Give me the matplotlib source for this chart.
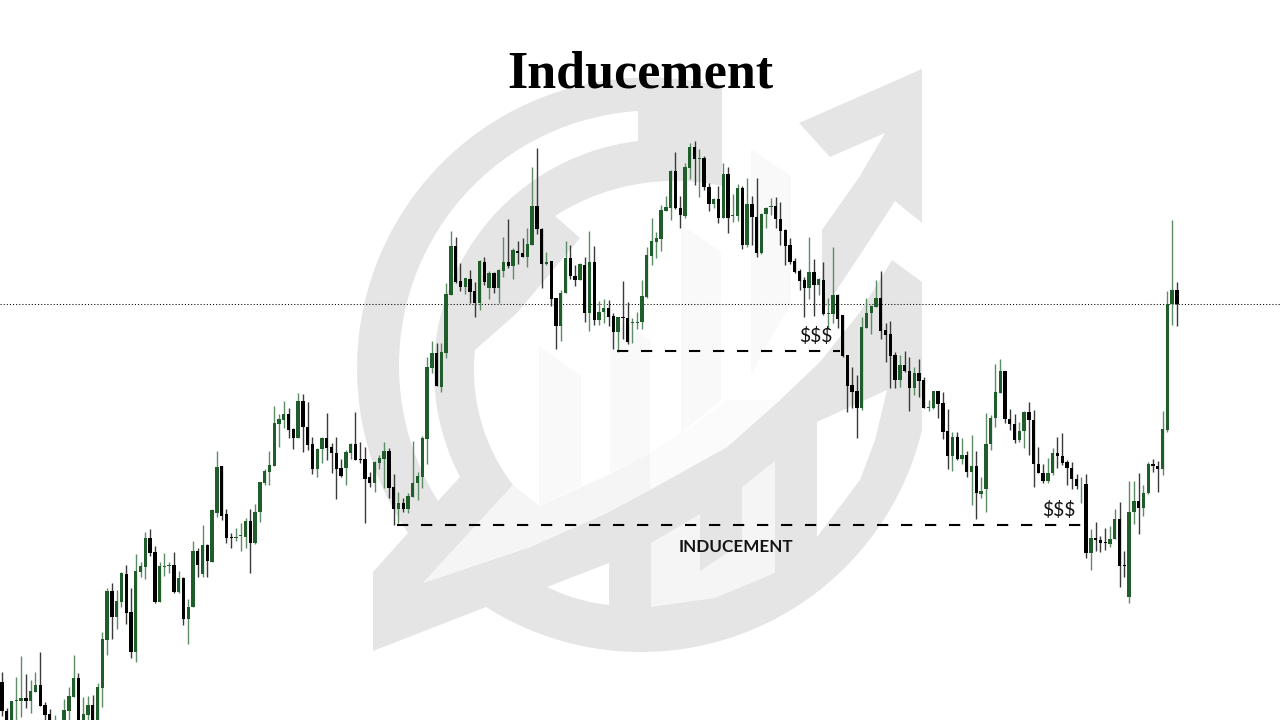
import numpy as np
import matplotlib
matplotlib.use("Agg")
import matplotlib.pyplot as plt
from matplotlib.patches import Polygon

title = "Inducement"
zone_label = "INDUCEMENT"
liquidity_label = "$$$"

# Chart levels (axis runs downwards, 0 to 720)
highs = [
 672,708,701,677,656,674,680,672,652,702,
 709,715,726,699,687,655,673,697,696,695,
 683,632,588,583,590,572,565,588,554,562,
 532,529,546,562,553,562,552,571,577,599,
 541,548,525,544,509,451,466,509,533,528,
 523,518,509,504,482,469,451,406,414,401,
 408,428,393,394,402,437,448,437,413,443,
 437,459,450,443,412,442,447,472,461,455,
 442,448,474,492,498,493,441,472,436,357,
 341,343,343,283,231,237,263,278,270,282,
 260,257,271,272,269,237,219,248,241,238,
 228,167,148,228,252,261,298,290,241,245,
 265,263,257,231,246,301,299,300,313,317,
 281,302,318,312,280,247,218,232,205,196,
 170,152,196,163,143,141,149,156,183,198,
 186,163,167,194,184,186,178,196,178,213,
 207,198,197,202,229,238,258,269,277,237,
 259,278,262,298,247,294,315,355,367,375,
 317,298,305,280,271,323,321,352,355,351,
 357,367,359,377,400,391,391,392,409,432,
 432,438,451,435,451,477,413,415,364,359,
 371,409,414,422,411,402,410,447,464,458,
 448,437,433,460,462,474,477,474,529,522,
 536,528,526,509,502,551,481,481,473,485,
 462,459,461,411,291,220,282]
body_tops = [
 682,711,701,700,698,698,691,685,685,705,
 714,722,735,710,696,678,678,714,705,705,
 687,639,591,591,601,573,574,612,571,566,
 538,538,552,566,566,565,565,578,578,607,
 551,551,545,545,510,467,466,514,537,537,
 535,521,521,512,482,471,465,423,419,414,
 414,429,401,401,427,444,449,438,438,447,
 453,468,452,444,444,459,459,477,462,458,
 451,451,487,503,503,496,483,476,438,367,
 353,353,352,294,246,246,281,278,279,291,
 261,262,273,273,270,262,262,250,251,253,
 244,206,206,229,262,261,298,293,258,258,
 276,264,265,262,262,312,308,308,316,317,
 317,318,322,322,296,255,241,238,210,207,
 171,171,208,167,147,147,158,158,187,199,
 199,174,174,215,188,188,204,204,217,214,
 208,206,206,219,230,245,261,271,280,272,
 272,279,280,313,295,295,315,355,385,391,
 327,313,306,298,298,330,334,355,365,365,
 371,373,373,380,407,391,391,403,431,437,
 437,455,455,466,466,491,444,418,392,371,
 371,419,424,431,412,412,420,464,473,473,
 453,453,456,462,468,479,485,484,538,538,
 540,542,539,519,519,565,512,501,501,493,
 464,464,466,429,304,290,290]
body_bottoms = [
 711,726,726,701,701,701,701,692,706,715,
 723,726,745,726,711,697,726,726,715,726,
 726,688,640,617,617,602,613,652,652,572,
 567,553,602,602,567,566,592,592,619,619,
 607,565,574,561,562,513,516,538,538,538,
 536,537,543,543,512,483,472,466,424,420,
 430,438,438,427,445,469,469,449,448,453,
 469,476,468,453,460,460,479,483,483,463,
 459,488,509,509,509,509,497,483,477,439,
 368,386,387,353,295,282,287,287,292,303,
 303,282,288,288,288,271,266,266,253,257,
 257,245,229,264,264,299,326,326,293,276,
 280,280,313,313,320,320,312,317,332,332,
 318,342,323,323,322,297,256,242,239,211,
 208,208,215,216,168,159,159,187,204,204,
 218,218,218,216,216,245,245,217,253,253,
 214,207,219,231,246,262,272,281,288,288,
 285,285,314,314,314,319,356,386,392,408,
 408,328,313,307,331,335,356,380,380,371,
 388,388,381,408,408,408,404,432,456,456,
 459,459,472,472,493,494,489,444,418,393,
 419,424,440,440,431,420,464,473,481,481,
 473,456,463,468,479,486,485,553,553,540,
 543,543,544,539,566,566,597,512,508,508,
 493,466,469,469,430,304,304]
lows = [
 716,730,730,722,717,708,713,692,706,720,
 726,730,748,730,720,697,730,730,720,730,
 730,707,655,639,629,607,624,658,662,577,
 579,556,603,602,576,573,593,593,625,644,
 607,577,577,577,562,517,520,543,548,541,
 551,548,573,544,522,485,485,466,447,428,
 438,449,438,452,450,474,477,463,460,473,
 499,477,485,459,460,463,523,487,492,469,
 488,498,525,523,512,513,497,500,488,464,
 373,386,392,358,295,283,291,294,303,317,
 310,285,299,293,303,277,268,279,264,257,
 267,245,234,288,265,306,349,341,293,279,
 286,280,322,331,325,325,323,326,349,352,
 339,344,343,329,329,298,265,258,251,211,
 220,209,228,218,179,185,197,190,211,208,
 223,218,233,222,221,249,247,245,257,254,
 228,215,228,245,265,264,273,290,317,299,
 316,295,315,328,323,328,357,412,408,438,
 410,328,334,307,339,362,388,388,387,372,
 411,395,397,408,411,409,418,439,469,471,
 460,464,477,505,519,498,512,450,427,393,
 423,430,443,442,448,455,487,473,483,483,
 475,468,465,485,489,489,503,558,570,551,
 552,550,547,539,587,577,603,524,534,516,
 494,472,492,475,432,325,326]
direction = ("kkgggkggkk" "kgkgggkggk" "gggkggkkgg" "gkkgggkgkg" "gkgkggkkkg"
             "ggkggggggg" "kkgkkkggkk" "kkggkkkkgg" "gkkgkggggg" "gkgggkkgkk"
             "gkgkggkgkk" "ggkkgkkggk" "kgkgkggkkg" "kkgggggggg" "gkkggkgkkg"
             "kgkggkgkkg" "ggkkkkkkkg" "kgkggkkkkk" "ggggkkkkgk" "kgkkggkkkg"
             "kgkgkggggg" "kkkggkkkkg" "gkkkkkgkgk" "kkggkkggkg" "gkkgggk")

dotted_level = 304
major_sweep = dict(level=525, start=82.7, end=226.8)
minor_sweep = dict(level=351, start=128.8, end=175.5)

GREY, LIGHT, PALE, WHITE = "#e5e5e5", "#f5f5f5", "#f9f9f9", "#ffffff"
GREEN, GREEN_WICK, BLACK, BLACK_WICK = "#1f5e2a", "#5c8d65", "#000000", "#3a3a3a"

plt.rcParams["font.family"] = ["Lato", "DejaVu Sans"]
fig = plt.figure(figsize=(12.8, 7.2), dpi=100, facecolor="white")

# --- watermark behind the chart, in figure pixels
bg = fig.add_axes([0, 0, 1, 1], zorder=0)
bg.set_xlim(0, 1280); bg.set_ylim(720, 0); bg.axis("off")


def arc(p0, p1, p2, n=50):
    """Points on the circle through three pixel points, p0 to p2 via p1."""
    (ax, ay), (bx, by), (cx, cy) = p0, p1, p2
    d = 2 * (ax * (by - cy) + bx * (cy - ay) + cx * (ay - by))
    ux = ((ax**2 + ay**2) * (by - cy) + (bx**2 + by**2) * (cy - ay) + (cx**2 + cy**2) * (ay - by)) / d
    uy = ((ax**2 + ay**2) * (cx - bx) + (bx**2 + by**2) * (ax - cx) + (cx**2 + cy**2) * (bx - ax)) / d
    r = np.hypot(ax - ux, ay - uy)
    a0, a1, a2 = [np.arctan2(q[1] - uy, q[0] - ux) for q in (p0, p1, p2)]
    def sweep(a, b, positive):
        d_ = (b - a) % (2 * np.pi)
        return d_ if positive else d_ - 2 * np.pi
    pos = sweep(a0, a1, True) < sweep(a0, a2, True)
    t = np.linspace(a0, a0 + sweep(a0, a2, pos), n)
    return list(zip(ux + r * np.cos(t), uy + r * np.sin(t)))


def shape(pts, color, z=1):
    bg.add_patch(Polygon(pts, closed=True, facecolor=color, edgecolor="none", zorder=z))


# big grey body
shape(arc((722, 87), (357, 366), (408, 533)) + [(373, 572), (373, 651), (486, 607)]
      + arc((486, 607), (645, 652), (922, 430)) + [(922, 282), (892, 260), (722, 87)], GREY, 1)
# white gap between the rings
shape(arc((638, 111), (399, 366), (438, 501)) + arc((460, 477), (434, 366), (638, 141)), WHITE, 2)
# white interior
swoosh_low = [(892, 260), (860, 312), (820, 362), (780, 400), (727, 447), (607, 513), (530, 547), (423, 583)]
shape(arc((555, 216), (638, 184), (722, 186)) + [(722, 50), (930, 50), (930, 262)] + swoosh_low
      + arc((513, 485), (474, 366), (475, 350)) + [(517, 313), (580, 238)], WHITE, 2)
# arrow head and its crescent
shape([(799, 123), (922, 69), (922, 223), (895, 201), (860, 255), (822, 312), (822, 230),
       (860, 176), (885, 133), (830, 157)], GREY, 3)
# wedge inside the ring on the right, sliver at the bottom
shape([(817, 422), (887, 390), (875, 440), (860, 480), (817, 537)], WHITE, 3)
shape([(609, 563), (547, 587)] + arc((547, 587), (575, 598), (609, 605)), WHITE, 3)
# lighter swoosh tail, fading along its length, and bars
shape([(650, 453), (690, 428), (727, 400), (780, 400), (727, 447), (650, 490)], "#fbfbfb", 3)
shape([(423, 583), (513, 485), (540, 506), (610, 474), (650, 453), (650, 490), (607, 513), (530, 547)], LIGHT, 3)
shape([(539, 346), (581, 376), (581, 486), (539, 506)], PALE, 3)
shape([(610, 315), (650, 340), (650, 453), (610, 473)], PALE, 3)
shape([(681, 224), (721, 252), (721, 400), (681, 433)], PALE, 3)
shape([(751, 149), (791, 176), (791, 303), (751, 374)], PALE, 3)
shape([(651, 543), (700, 514), (700, 571), (742, 543), (742, 487), (775, 461), (775, 573), (715, 598), (651, 607)],
      LIGHT, 3)

# --- candles
ax = fig.add_axes([0, 0, 1, 1], zorder=1)
ax.patch.set_alpha(0)
ax.set_xlim(-2 / 4.776, 1278 / 4.776)
ax.set_ylim(720, 0)
ax.axis("off")

xs = np.arange(len(highs))
is_up = np.array([d == "g" for d in direction])
hi, lo = np.array(highs), np.array(lows)
top, bot = np.array(body_tops), np.array(body_bottoms)

ax.vlines(xs[is_up], hi[is_up], lo[is_up], colors=GREEN_WICK, linewidth=1.0, zorder=3)
ax.vlines(xs[~is_up], hi[~is_up], lo[~is_up], colors=BLACK_WICK, linewidth=1.0, zorder=3)
ax.bar(xs[is_up], (bot - top)[is_up], bottom=top[is_up], width=0.7, color=GREEN, linewidth=0, zorder=4)
ax.bar(xs[~is_up], (bot - top)[~is_up], bottom=top[~is_up], width=0.7, color=BLACK, linewidth=0, zorder=4)

# --- levels
ax.axhline(dotted_level, color="#111111", linewidth=0.75, linestyle=(0, (1.1, 1.9)), zorder=2)
for sweep_ in (major_sweep, minor_sweep):
    ax.plot([sweep_["start"], sweep_["end"]], [sweep_["level"]] * 2, color="black", linewidth=1.5,
            linestyle=(0, (5.4, 6.12)), dash_capstyle="butt", zorder=5)

# --- text
fig.text(640 / 1280, 1 - 75 / 720, title, family=["Liberation Serif"], fontweight="bold", fontsize=37.5,
         ha="center", va="center", color="black", zorder=5)
ax.text(153.7, 546.5, zone_label, fontsize=12.3, fontweight="bold", ha="center", va="center", color="#151515", zorder=6)
ax.text(170.3, 336, liquidity_label, fontsize=14, ha="center", va="center", color="#151515", zorder=6)
ax.text(221.3, 510, liquidity_label, fontsize=14, ha="center", va="center", color="#151515", zorder=6)

fig.savefig("out.png", dpi=100)
